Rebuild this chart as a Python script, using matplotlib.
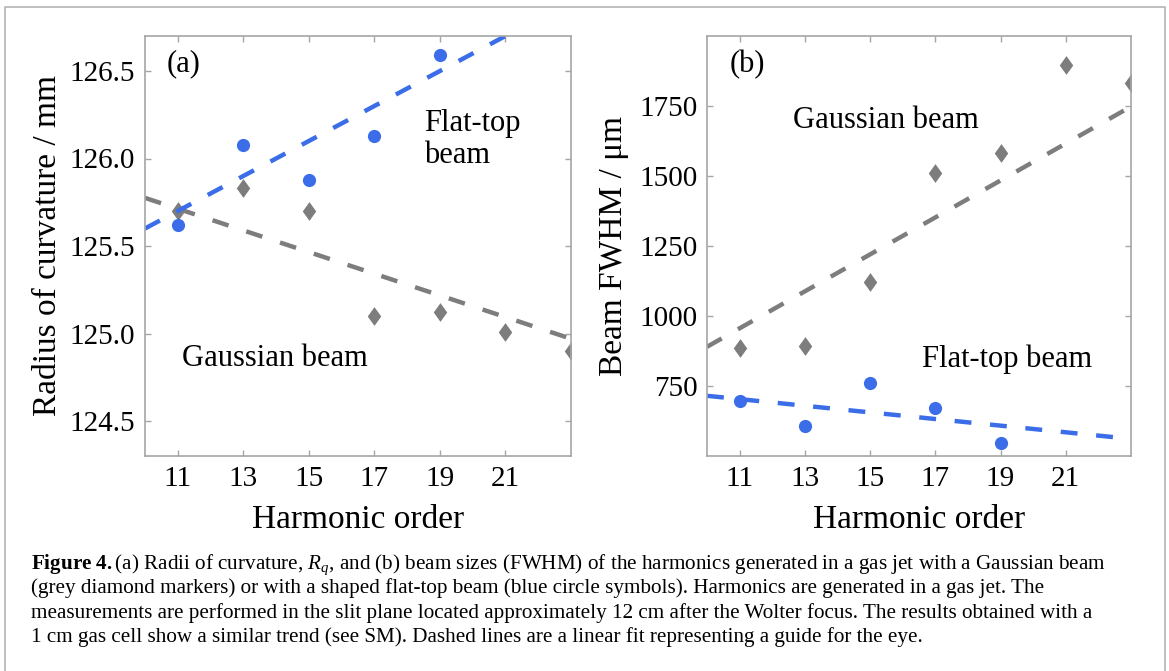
# Radius of curvature and beam FWHM vs harmonic order (two panels + caption)
import numpy as np
import matplotlib
matplotlib.use("Agg")
import matplotlib.pyplot as plt
from matplotlib.lines import Line2D

# ---- data ----
orders_flat = [11, 13, 15, 17, 19]
orders_gauss = [11, 13, 15, 17, 19, 21, 23]

roc_flat = [125.62, 126.08, 125.88, 126.13, 126.59]
roc_gauss = [125.70, 125.83, 125.70, 125.10, 125.12, 125.01, 124.90]

fwhm_flat = [696, 608, 759, 672, 547]
fwhm_gauss = [886, 892, 1123, 1512, 1582, 1898, 1832]

# dashed guide lines (end points)
fit_x = [10, 23]
roc_fit_flat = [125.60, 126.90]
roc_fit_gauss = [125.775, 124.97]
fwhm_fit_flat = [715, 561]
fwhm_fit_gauss = [890, 1748]

xticks = [11, 13, 15, 17, 19, 21]
roc_ticks = [124.5, 125.0, 125.5, 126.0, 126.5]
fwhm_ticks = [750, 1000, 1250, 1500, 1750]

caption_lines = [
    r"$\mathbf{Figure\ 4.}$(a) Radii of curvature, $R_q$, and (b) beam sizes (FWHM) of the harmonics generated in a gas jet with a Gaussian beam",
    "(grey diamond markers) or with a shaped flat-top beam (blue circle symbols). Harmonics are generated in a gas jet. The",
    "measurements are performed in the slit plane located approximately 12 cm after the Wolter focus. The results obtained with a",
    "1 cm gas cell show a similar trend (see SM). Dashed lines are a linear fit representing a guide for the eye.",
]

# ---- style ----
plt.rcParams['font.family'] = ['Liberation Serif', 'DejaVu Serif']
plt.rcParams['mathtext.fontset'] = 'custom'
plt.rcParams['mathtext.rm'] = 'Liberation Serif'
plt.rcParams['mathtext.it'] = 'Liberation Serif:italic'
plt.rcParams['mathtext.bf'] = 'Liberation Serif:bold'

blue = '#3c6de8'
grey = '#7d7d7d'
spine_col = '#a6a6a6'
W, H = 1169, 671

# slightly wide diamond, like the original markers
diamond = [(0, 1), (0.72, 0), (0, -1), (-0.72, 0), (0, 1)]

fig = plt.figure(figsize=(W / 100, H / 100), dpi=100)

def px(x0, y0, x1, y1):
    return [x0 / W, 1 - y1 / H, (x1 - x0) / W, (y1 - y0) / H]

ax1 = fig.add_axes(px(145, 36, 571, 456))
ax2 = fig.add_axes(px(707, 36, 1131, 456))

def style(ax):
    for s in ax.spines.values():
        s.set_color(spine_col)
        s.set_linewidth(1.2)
        s.set_zorder(6)
    ax.tick_params(direction='in', top=True, right=True, length=4, width=1,
                   color=spine_col, labelsize=21, pad=7)
    ax.set_xlim(10, 23)
    ax.set_xticks(xticks)
    ax.set_xlabel('Harmonic order', fontsize=24)
    ax.xaxis.set_label_coords(0.5, -0.115)

lw = 3.2
dash = (3.8, 4.2)

# panel (a)
ax1.plot(orders_gauss, roc_gauss, marker=diamond, ls='none', color=grey, ms=13.5, mew=0, zorder=2)
ax1.plot(fit_x, roc_fit_gauss, color=grey, lw=lw, dashes=dash, zorder=3)
ax1.plot(fit_x, roc_fit_flat, color=blue, lw=lw, dashes=dash, zorder=4)
ax1.plot(orders_flat, roc_flat, 'o', color=blue, ms=9.5, mew=0, zorder=5)
style(ax1)
ax1.set_ylim(124.3, 126.7)
ax1.set_yticks(roc_ticks)
ax1.set_yticklabels(['%.1f' % v for v in roc_ticks])
ax1.set_ylabel('Radius of curvature / mm', fontsize=24)
ax1.yaxis.set_label_coords(-0.1925, 0.5)
ax1.text(10.66, 126.54, '(a)', fontsize=22, va='center', ha='left')
ax1.text(18.53, 126.28, 'Flat-top\nbeam', fontsize=22, va='top', ha='left',
         linespacing=1.1)
ax1.text(11.12, 124.86, 'Gaussian beam', fontsize=22, va='center', ha='left')

# panel (b)
ax2.plot(orders_gauss, fwhm_gauss, marker=diamond, ls='none', color=grey, ms=13.5, mew=0, zorder=2)
ax2.plot(fit_x, fwhm_fit_gauss, color=grey, lw=lw, dashes=dash, zorder=3)
ax2.plot(fit_x, fwhm_fit_flat, color=blue, lw=lw, dashes=dash, zorder=4)
ax2.plot(orders_flat, fwhm_flat, 'o', color=blue, ms=9.5, mew=0, zorder=5)
style(ax2)
ax2.set_ylim(500, 2000)
ax2.set_yticks(fwhm_ticks)
ax2.set_ylabel('Beam FWHM / μm', fontsize=24)
ax2.yaxis.set_label_coords(-0.184, 0.5)
ax2.text(10.69, 1897, '(b)', fontsize=22, va='center', ha='left')
ax2.text(12.64, 1699, 'Gaussian beam', fontsize=22, va='center', ha='left')
ax2.text(16.58, 847, 'Flat-top beam', fontsize=22, va='center', ha='left')

# caption
baselines = [569, 593.5, 618, 642]
for line, yb in zip(caption_lines, baselines):
    fig.text(31 / W, 1 - yb / H, line, fontsize=15.2, va='baseline', ha='left')

# light border round the whole figure
fig.add_artist(Line2D([5 / W, 5 / W, 1165 / W, 1165 / W], [0, 1 - 7 / H, 1 - 7 / H, 0],
                      transform=fig.transFigure, color='#b4b4b4', lw=1.2))

fig.savefig('out.png', dpi=100)
